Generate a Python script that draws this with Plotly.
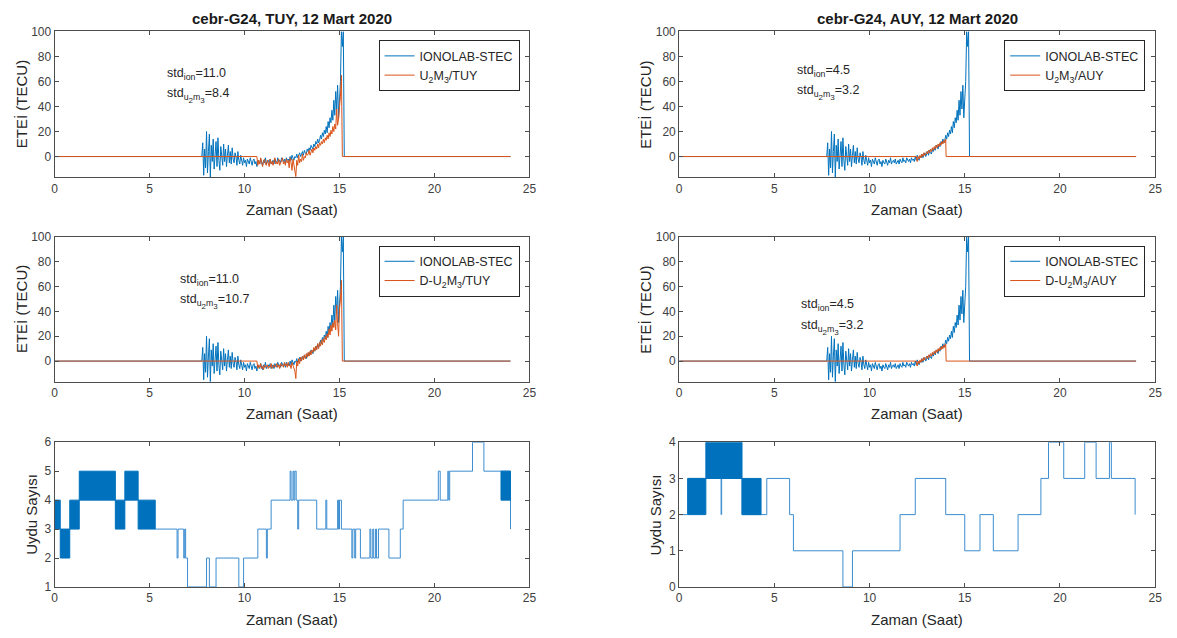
import plotly.graph_objects as go

W, H = 1177, 638
FONT = "Liberation Sans, Arial, Helvetica, sans-serif"
BLUE = "#0072BD"
ORANGE = "#D95319"
STEP_BLUE = "#3C8DD0"
AX = "#4D4D4D"
TXT = "#262626"

# ---------------- data ----------------
# IONOLAB-STEC noisy portion, sampled every 0.05 h from 7.80 h to 15.20 h
stec_t = [round(7.80 + 0.05 * i, 2) for i in range(149)]
stec_v = [11, -15, 6, -9, 20, -13, 4, 18, -17, 9,
          -4, 14, -10, 3, 12, -8, 15, -3, -11, 8,
          2, -7, 10, -4, 6, -8, 1, 9, -5, 4,
          -6, 7, -2, -5, 3, 0, -7, 4, -3, -6,
          1, -4, -7, -1, -5, -3, -8, -2, -4, -6,
          -1, -5, -7, -3, -2, -6, -4, -8, -3, -5,
          -6, -2, -4, -7, -3, -5, -1, -6, -4, -3,
          -5, -2, -6, -4, -3, -6, -2, -4, -5, -1,
          -4, -3, -5, -1, -3, -4, -2, -5, -1, -3,
          -2, -4, 0, -3, 1, -2, -3, 0, -1, 2,
          -1, 1, 3, 0, 2, 4, 1, 5, 3, 2,
          6, 4, 7, 5, 9, 7, 6, 10, 8, 12,
          10, 14, 11, 13, 17, 14, 19, 16, 21, 18,
          24, 19, 28, 23, 31, 27, 37, 29, 45, 33,
          52, 38, 57, 31, 48, 60, 100, 88, 100]

# U2M3 / TUY model, every 0.05 h from 10.70 h to 15.15 h
tuy_t = [round(10.70 + 0.05 * i, 2) for i in range(90)]
tuy_v = [-7, -3, -6, -1, -5, -8, -4, -2, -6, -7,
         -3, -5, -8, -2, -6, -4, -7, -3, -1, -6,
         -4, -6, -2, -7, -5, -3, -1, -6, -4, -7,
         -2, -5, -3, -9, -1, -5, -11, -2, -6, -12,
         -16, -3, -7, 1, -5, -2, -4, 2, -3, 0,
         -1, 3, 1, 2, 5, 1, 4, 6, 3, 7,
         5, 8, 6, 10, 7, 11, 9, 12, 10, 14,
         11, 15, 13, 17, 14, 19, 16, 21, 18, 24,
         20, 26, 22, 38, 25, 30, 40, 48, 65, 0]

# D-U2M3 / TUY model, same sampling
dtuy_v = [-6, -3, -5, -2, -6, -4, -7, -3, -5, -4,
          -3, -6, -4, -5, -2, -6, -4, -3, -5, -4,
          -2, -5, -3, -6, -2, -4, -3, -5, -1, -4,
          -2, -5, -1, -4, -3, -6, -1, -3, -5, -8,
          -14, 0, -4, 2, -2, 3, 0, 4, 1, 5,
          2, 6, 3, 7, 4, 8, 5, 9, 7, 11,
          8, 12, 9, 14, 10, 15, 12, 17, 13, 18,
          15, 20, 17, 22, 19, 26, 21, 29, 24, 31,
          27, 33, 25, 45, 30, 20, 42, 50, 65, 0]

# U2M3 / AUY model, every 0.05 h from 12.50 h to 14.00 h
auy_t = [round(12.50 + 0.05 * i, 2) for i in range(31)]
auy_v = [-4, 0, -2, 1, -1, 2, 0, 3, 1, 2,
         4, 2, 5, 3, 6, 4, 7, 5, 8, 6,
         9, 7, 10, 8, 11, 9, 12, 10, 13, 11,
         14]
dauy_v = list(auy_v)

# zero-filled parts of the curves
ion_x = [0, 7.75] + stec_t + [15.25, 24]
ion_y = [0, 0] + stec_v + [0, 0]
tuy_x = [0, 10.65] + tuy_t + [24]
tuy_y = [0, 0] + tuy_v + [0]
dtuy_y = [0, 0] + dtuy_v + [0]
auy_x = [0, 12.45] + auy_t + [14.02, 24]
auy_y = [0, 0] + auy_v + [0, 0]
dauy_y = [0, 0] + dauy_v + [0, 0]

# satellite counts: rapidly alternating intervals (t0, t1, lo, hi)
tuy_band_t0 = [0.0, 0.3, 0.8, 1.3, 3.2, 3.7, 4.4, 23.5]
tuy_band_t1 = [0.3, 0.8, 1.3, 3.2, 3.7, 4.4, 5.3, 24.0]
tuy_band_lo = [3, 2, 3, 4, 3, 4, 3, 4]
tuy_band_hi = [4, 3, 4, 5, 4, 5, 4, 5]
tuy_step_t = [5.3, 6.45, 6.5, 6.8, 6.85, 6.9, 7.0, 8.0, 8.15, 8.5, 9.7, 9.95,
              10.7, 11.15, 11.2, 11.4, 12.4, 12.45, 12.55, 12.6, 12.65, 12.72,
              12.8, 12.85, 13.8, 14.28, 14.33, 14.9, 14.95, 15.0, 15.1, 15.65,
              15.7, 15.8, 15.85, 16.1, 16.6, 16.65, 16.75, 16.8, 16.9, 16.95,
              17.05, 17.6, 18.2, 18.35, 20.2, 20.3, 20.7, 20.75, 20.8, 22.0,
              22.6, 23.5, 24.0]
tuy_step_v = [3, 2, 3, 2, 3, 2, 1, 2, 1, 2, 1, 2,
              3, 2, 3, 4, 5, 4, 5, 4, 5, 4,
              3, 4, 3, 4, 3, 4, 3, 4, 3, 2,
              3, 2, 3, 2, 3, 2, 3, 2, 3, 2,
              3, 2, 3, 4, 5, 4, 5, 4, 5, 6,
              5, 5, 3]

auy_band_t0 = [0.45, 1.4, 3.3]
auy_band_t1 = [1.4, 3.3, 4.3]
auy_band_lo = [2, 3, 2]
auy_band_hi = [3, 4, 3]
auy_step_t = [0, 0.45, 2.2, 2.23, 3.3, 4.3, 4.6, 5.8, 6.0, 8.6, 9.1, 11.6, 12.4,
              14.0, 15.0, 15.8, 16.5, 17.8, 19.0, 19.4, 20.2, 21.3, 21.9, 22.6,
              22.7, 23.95]
auy_step_v = [2, 3, 2, 3, 2, 2, 3, 2, 1, 0, 1, 2, 3,
              2, 1, 2, 1, 2, 3, 4, 3, 4, 3, 4,
              3, 2]

x_ticks = [0, 5, 10, 15, 20, 25]
tec_ticks = [0, 20, 40, 60, 80, 100]
tuy_sat_ticks = [1, 2, 3, 4, 5, 6]
auy_sat_ticks = [0, 1, 2, 3, 4]

titles = ["cebr-G24, TUY, 12 Mart 2020", "cebr-G24, AUY, 12 Mart 2020"]
model_names = [["U<sub>2</sub>M<sub>3</sub>/TUY", "U<sub>2</sub>M<sub>3</sub>/AUY"],
               ["D-U<sub>2</sub>M<sub>3</sub>/TUY", "D-U<sub>2</sub>M<sub>3</sub>/AUY"]]
std_ion = [["11.0", "4.5"], ["11.0", "4.5"]]
std_mod = [["8.4", "3.2"], ["10.7", "3.2"]]

# ---------------- layout helpers ----------------
def px(x):
    return x / W


def py(y):
    return 1 - y / H


col_dom = [[px(52), px(531)], [px(682), px(1162)]]
row_pix = [(25, 174), (235, 383), (445, 593)]
row_dom = [[py(b), py(t)] for t, b in row_pix]

fig = go.Figure()


def ax_id(r, c):
    return r * 2 + c + 1


def axis_style():
    return dict(showline=True, linecolor=AX, linewidth=1, mirror="ticks",
                ticks="inside", ticklen=4, tickwidth=1, tickcolor=AX,
                showgrid=False, zeroline=False,
                tickfont=dict(family=FONT, size=12, color="#404040"))


layout = {}
for r in range(3):
    for c in range(2):
        n = ax_id(r, c)
        xs = "" if n == 1 else str(n)
        xa = axis_style()
        xa.update(domain=col_dom[c], anchor="y" + xs, range=[0, 25], tickvals=x_ticks)
        ya = axis_style()
        if r < 2:
            ya.update(range=[-16.5, 100], tickvals=tec_ticks)
        elif c == 0:
            ya.update(range=[1, 6], tickvals=tuy_sat_ticks)
        else:
            ya.update(range=[0, 4], tickvals=auy_sat_ticks)
        ya.update(domain=row_dom[r], anchor="x" + xs)
        layout["xaxis" + xs] = xa
        layout["yaxis" + xs] = ya

# ---------------- traces: STEC panels ----------------
legend_ids = {(0, 0): "legend", (1, 0): "legend2", (0, 1): "legend3", (1, 1): "legend4"}
model_y = {(0, 0): tuy_y, (1, 0): dtuy_y, (0, 1): auy_y, (1, 1): dauy_y}
model_x = {(0, 0): tuy_x, (1, 0): tuy_x, (0, 1): auy_x, (1, 1): auy_x}

for r in range(2):
    for c in range(2):
        n = ax_id(r, c)
        xs = "" if n == 1 else str(n)
        lg = legend_ids[(r, c)]
        fig.add_trace(go.Scatter(x=ion_x, y=ion_y, mode="lines", name="IONOLAB-STEC",
                                 line=dict(color=BLUE, width=1), xaxis="x" + xs,
                                 yaxis="y" + xs, legend=lg))
        fig.add_trace(go.Scatter(x=model_x[(r, c)], y=model_y[(r, c)], mode="lines",
                                 name=model_names[r][c],
                                 line=dict(color=ORANGE, width=1), xaxis="x" + xs,
                                 yaxis="y" + xs, legend=lg))

# ---------------- traces: satellite counts ----------------
def band_path(t0s, t1s, los, his):
    bx, by = [], []
    for a, b, lo, hi in zip(t0s, t1s, los, his):
        bx += [a, b, b, a, a, None]
        by += [lo, lo, hi, hi, lo, None]
    return bx, by


for c, (bt0, bt1, blo, bhi, st, sv) in enumerate([
        (tuy_band_t0, tuy_band_t1, tuy_band_lo, tuy_band_hi, tuy_step_t, tuy_step_v),
        (auy_band_t0, auy_band_t1, auy_band_lo, auy_band_hi, auy_step_t, auy_step_v)]):
    n = ax_id(2, c)
    xs = str(n)
    fig.add_trace(go.Scatter(x=st, y=sv, mode="lines", line=dict(color=STEP_BLUE, width=1, shape="hv"),
                             xaxis="x" + xs, yaxis="y" + xs, showlegend=False))
    bx, by = band_path(bt0, bt1, blo, bhi)
    fig.add_trace(go.Scatter(x=bx, y=by, mode="lines", fill="toself", fillcolor=BLUE,
                             line=dict(color=BLUE, width=1), xaxis="x" + xs, yaxis="y" + xs,
                             showlegend=False))

# ---------------- legends ----------------
leg_common = dict(xref="paper", yref="paper", xanchor="right", yanchor="top",
                  bgcolor="white", bordercolor=TXT, borderwidth=1,
                  font=dict(family=FONT, size=12.5, color=TXT),
                  tracegroupgap=0, itemwidth=30)
leg_pos = {"legend": (521, 34), "legend2": (521, 244), "legend3": (1152, 34), "legend4": (1152, 244)}
for k, (lx, ly) in leg_pos.items():
    d = dict(leg_common)
    d.update(x=px(lx), y=py(ly))
    layout[k] = d

# ---------------- annotations ----------------
ann = []
centers = [(52 + 531) / 2, (682 + 1162) / 2]
for c in range(2):
    ann.append(dict(text="<b>" + titles[c] + "</b>", x=px(centers[c]), y=py(12),
                    font=dict(family=FONT, size=15, color="#1a1a1a")))
    for r in range(3):
        ann.append(dict(text="Zaman (Saat)", x=px(centers[c]), y=py(row_pix[r][1] + 33),
                        font=dict(family=FONT, size=15, color=TXT)))
ylab_x = [18, 648]
sat_x = [28.5, 658.5]
for c in range(2):
    for r in range(2):
        ann.append(dict(text="ETEİ (TECU)", x=px(ylab_x[c]), y=py(sum(row_pix[r]) / 2),
                        textangle=-90, font=dict(family=FONT, size=15, color=TXT)))
    ann.append(dict(text="Uydu Sayısı", x=px(sat_x[c]), y=py(sum(row_pix[2]) / 2),
                    textangle=-90, font=dict(family=FONT, size=15, color=TXT)))

SUBSUB = "<span style='baseline-shift:-3px;font-size:8px'>{}</span>"
std_pos = {(0, 0): (163, 69, 90), (1, 0): (177, 279, 301),
           (0, 1): (799, 65, 87), (1, 1): (803, 305, 328)}
for (r, c), (sx, y1, y2) in std_pos.items():
    ann.append(dict(text="std<sub>ion</sub>=" + std_ion[r][c], x=px(sx), y=py(y1),
                    xanchor="left", font=dict(family=FONT, size=12.5, color=TXT)))
    ann.append(dict(text="std<sub>u" + SUBSUB.format("2") + "m" + SUBSUB.format("3")
                    + "</sub>=" + std_mod[r][c],
                    x=px(sx), y=py(y2), xanchor="left",
                    font=dict(family=FONT, size=12.5, color=TXT)))

for a in ann:
    a.setdefault("xref", "paper")
    a.setdefault("yref", "paper")
    a.setdefault("showarrow", False)
    a.setdefault("xanchor", "center")
    a.setdefault("yanchor", "middle")

fig.update_layout(width=W, height=H, margin=dict(l=0, r=0, t=0, b=0),
                  paper_bgcolor="white", plot_bgcolor="white",
                  font=dict(family=FONT, color=TXT), annotations=ann, **layout)

fig.write_html("out.html")
